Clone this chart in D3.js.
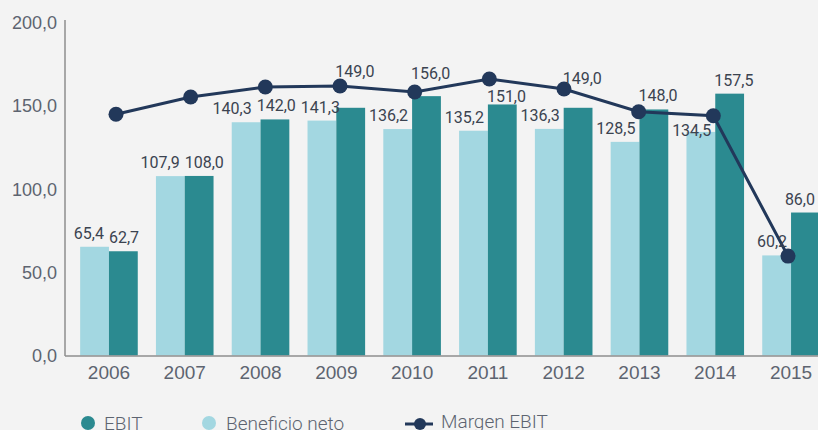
<!DOCTYPE html>
<html>
<head>
<meta charset="utf-8">
<script src="https://cdn.jsdelivr.net/npm/d3@7"></script>
<style>
  html, body { margin: 0; padding: 0; background: #f3f3f3; }
  svg { display: block; font-family: Roboto, "Noto Sans", sans-serif; }
</style>
</head>
<body>
<div id="chart"></div>
<script>
// values
const years = ["2006", "2007", "2008", "2009", "2010", "2011", "2012", "2013", "2014", "2015"];
const beneficioNeto = [65.4, 107.9, 140.3, 141.3, 136.2, 135.2, 136.3, 128.5, 134.5, 60.2];
const ebit = [62.7, 108.0, 142.0, 149.0, 156.0, 151.0, 149.0, 148.0, 157.5, 86.0];
// margin line, expressed on the left axis (no secondary axis shown)
const margenEbit = [145.1, 155.5, 161.5, 162.1, 158.5, 166.3, 160.3, 146.6, 144.2, 59.8];
const yTicks = [0, 50, 100, 150, 200];

const width = 818;
const height = 430;
const colors = { ebit: "#2b8a90", neto: "#a3d7e1", line: "#22385a", axis: "#8e8e8e", text: "#5d6470", label: "#3b4350" };

const fmt = d3.formatLocale({ decimal: ",", thousands: ".", grouping: [3], currency: ["", ""] }).format(".1f");

const svg = d3.select("#chart").append("svg")
    .attr("width", width)
    .attr("height", height);

const x = d3.scaleBand()
    .domain(years)
    .range([65, 835])
    .paddingInner(0.24)
    .paddingOuter(0.2);

const xSub = d3.scaleBand()
    .domain(["neto", "ebit"])
    .range([0, x.bandwidth()]);

const xLine = d3.scalePoint()
    .domain(years)
    .range([116, 788]);

const y = d3.scaleLinear().domain([0, 200]).range([355.5, 23]);

// axes
svg.append("g")
    .attr("transform", "translate(65,0)")
    .call(d3.axisLeft(y).tickValues(yTicks).tickFormat(fmt).tickSize(0).tickPadding(8))
    .call(g => g.select(".domain").remove())
    .selectAll("text")
    .style("font-size", "18px")
    .style("font-weight", 300)
    .style("fill", colors.text);

svg.append("g")
    .attr("transform", "translate(0,356)")
    .call(d3.axisBottom(x).tickSize(0).tickPadding(10))
    .call(g => g.select(".domain").remove())
    .selectAll("text")
    .style("font-size", "19px")
    .style("font-weight", 300)
    .style("fill", colors.text);

svg.append("line")
    .attr("x1", 65).attr("x2", 65)
    .attr("y1", 20).attr("y2", 356)
    .style("stroke", colors.axis)
    .style("stroke-width", 1.5);

// bars
const groups = svg.append("g").selectAll("g")
    .data(years)
    .join("g")
    .attr("transform", d => `translate(${x(d)},0)`);

groups.append("rect")
    .attr("x", xSub("neto"))
    .attr("y", (d, i) => y(beneficioNeto[i]))
    .attr("width", xSub.bandwidth())
    .attr("height", (d, i) => y(0) - y(beneficioNeto[i]))
    .attr("fill", colors.neto);

groups.append("rect")
    .attr("x", xSub("ebit"))
    .attr("y", (d, i) => y(ebit[i]))
    .attr("width", xSub.bandwidth())
    .attr("height", (d, i) => y(0) - y(ebit[i]))
    .attr("fill", colors.ebit);

svg.append("line")
    .attr("x1", 65).attr("x2", width)
    .attr("y1", 356).attr("y2", 356)
    .style("stroke", colors.axis)
    .style("stroke-width", 1.5);

// margin line
const linePts = years.map((yr, i) => [xLine(yr), y(margenEbit[i])]);

svg.append("path")
    .datum(linePts)
    .attr("d", d3.line())
    .attr("fill", "none")
    .attr("stroke", colors.line)
    .attr("stroke-width", 3);

svg.append("g").selectAll("circle")
    .data(linePts)
    .join("circle")
    .attr("cx", d => d[0])
    .attr("cy", d => d[1])
    .attr("r", 7.5)
    .attr("fill", colors.line);

// line height at a given x, to keep value labels off the line
function lineYAt(px) {
    for (let i = 0; i < linePts.length - 1; i++) {
        const [x0, y0] = linePts[i];
        const [x1, y1] = linePts[i + 1];
        if (px >= x0 && px <= x1) return y0 + (y1 - y0) * (px - x0) / (x1 - x0);
    }
    return px < linePts[0][0] ? linePts[0][1] : linePts[linePts.length - 1][1];
}

function labelPos(value, cx, canOverlapBar) {
    const top = y(value);
    let b = top - 8;
    const ly = lineYAt(cx);
    if (ly > b - 19 && ly < b + 6) {
        const below = ly + 21;
        const limit = canOverlapBar ? top + 4 : top - 2;
        b = below <= limit ? below : ly - 10;
    }
    return b;
}

// value labels: light ones end near the bar's right edge, dark ones start at
// the bar's left edge; then neighbours that still collide are pushed apart
const labels = [];
years.forEach((yr, i) => {
    const nRight = x(yr) + xSub("neto") + xSub.bandwidth() - 4;
    const eLeft = x(yr) + xSub("ebit") - 1;
    labels.push({ edge: nRight, side: "end", y: labelPos(beneficioNeto[i], nRight - 18, true), v: beneficioNeto[i] });
    labels.push({ edge: eLeft, side: "start", y: labelPos(ebit[i], eLeft + 18, false), v: ebit[i] });
});

const labelSel = svg.append("g").selectAll("text")
    .data(labels)
    .join("text")
    .attr("y", d => d.y)
    .attr("text-anchor", "middle")
    .style("font-size", "16px")
    .style("fill", colors.label)
    .text(d => fmt(d.v))
    .each(function (d) {
        d.w = this.getComputedTextLength();
        d.cx = d.side === "end" ? d.edge - d.w / 2 : d.edge + d.w / 2;
    });

const gap = 5;
for (let iter = 0; iter < 30; iter++) {
    for (let i = 0; i < labels.length - 1; i++) {
        const a = labels[i], b = labels[i + 1];
        if (Math.abs(a.y - b.y) >= 14) continue;
        const overlap = (a.cx + a.w / 2 + gap) - (b.cx - b.w / 2);
        if (overlap > 0) {
            a.cx -= overlap / 2;
            b.cx += overlap / 2;
        }
    }
    labels.forEach(d => { d.cx = Math.min(d.cx, width - d.w / 2 - 3); });
}

labelSel.attr("x", d => d.cx);

// legend
const legend = svg.append("g").style("font-size", "19px").style("font-weight", 300).style("fill", colors.text);

legend.append("circle").attr("cx", 88).attr("cy", 423).attr("r", 7).attr("fill", colors.ebit);
legend.append("text").attr("x", 104).attr("y", 430).text("EBIT");

legend.append("circle").attr("cx", 209).attr("cy", 423).attr("r", 7).attr("fill", colors.neto);
legend.append("text").attr("x", 226).attr("y", 430).text("Beneficio neto");

legend.append("line").attr("x1", 405).attr("x2", 433).attr("y1", 424).attr("y2", 424)
    .attr("stroke", colors.line).attr("stroke-width", 3);
legend.append("circle").attr("cx", 420).attr("cy", 424).attr("r", 6).attr("fill", colors.line);
legend.append("text").attr("x", 441).attr("y", 428).text("Margen EBIT");
</script>
</body>
</html>
